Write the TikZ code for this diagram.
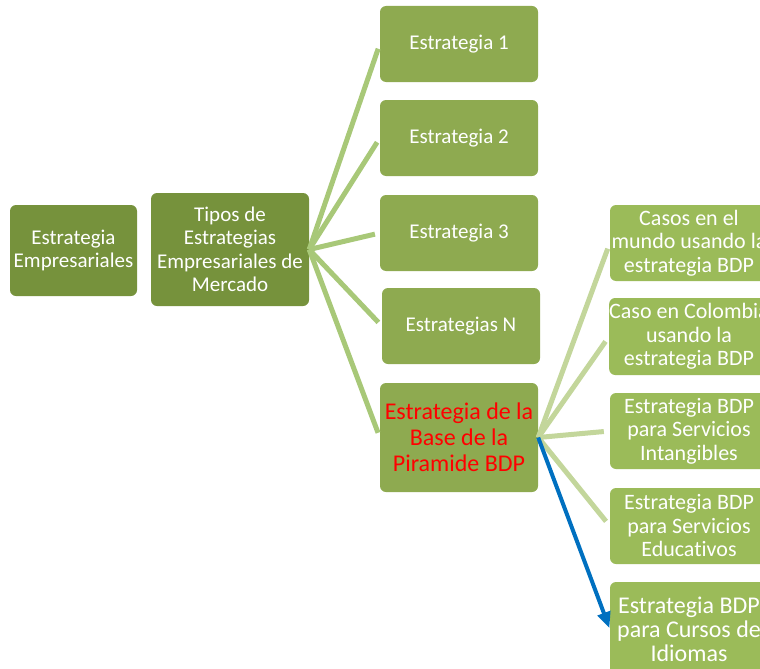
\documentclass[tikz,border=0pt]{standalone}
\usepackage{fontspec}
\setmainfont[Ligatures=NoCommon]{Carlito}
\usetikzlibrary{arrows.meta}
\definecolor{darkgr}{HTML}{76923C}
\definecolor{midgr}{HTML}{8EAA50}
\definecolor{ltgr}{HTML}{9BBB59}
\definecolor{lineA}{HTML}{A8C878}
\definecolor{lineB}{HTML}{C3D69B}
\definecolor{arrowblue}{HTML}{0070C0}
\tikzset{
  bx/.style={rounded corners=6pt, inner sep=0pt, text=white, align=center,
    minimum width=158pt, minimum height=76pt,
    font=\fontsize{21}{23.5}\selectfont},
  rbx/.style={bx, fill=ltgr, font=\fontsize{22}{23.5}\selectfont},
  conA/.style={draw=lineA, line width=5pt, shorten >=5pt},
  conB/.style={draw=lineB, line width=5pt, shorten >=6pt},
}
\begin{document}
\begin{tikzpicture}[x=1pt,y=-1pt]
\useasboundingbox (0,0) rectangle (760,669);
\clip (0,0) rectangle (760,669);
% boxes
\node[bx, fill=darkgr, minimum width=127pt, minimum height=91pt] (es) at (73.5,250.5) {Estrategia\\Empresariales};
\node[bx, fill=darkgr, minimum height=113pt] (tipos) at (230,249.5) {Tipos de\\Estrategias\\Empresariales de\\Mercado};
\node[bx, fill=midgr] (e1) at (459,44) {Estrategia 1};
\node[bx, fill=midgr] (e2) at (459,138) {Estrategia 2};
\node[bx, fill=midgr] (e3) at (459,233) {Estrategia 3};
\node[bx, fill=midgr] (eN) at (461,326) {Estrategias N};
\node[bx, fill=midgr, minimum height=109pt, text=red, font=\fontsize{24}{26}\selectfont] (bdp) at (459,437.5) {Estrategia de la\\Base de la\\Piramide BDP};
\node[rbx] (r1) at (689,243) {Casos en el\\mundo usando la\\estrategia BDP};
\node[rbx, minimum height=77pt] (r2) at (689,336.5) {Caso en Colombia\\usando la\\estrategia BDP};
\node[rbx] (r3) at (689,431) {Estrategia BDP\\para Servicios\\Intangibles};
\node[rbx] (r4) at (689,526) {Estrategia BDP\\para Servicios\\Educativos};
\node[rbx, minimum height=94pt, font=\fontsize{24}{24}\selectfont] (r5) at (689,629) {Estrategia BDP\\para Cursos de\\Idiomas};
% connectors
\path[conA] (tipos.east) -- (e1.west);
\path[conA] (tipos.east) -- (e2.west);
\path[conA] (tipos.east) -- (e3.west);
\path[conA] (tipos.east) -- (eN.west);
\path[conA] (tipos.east) -- (bdp.west);
\path[conB] (bdp.east) -- (r1.west);
\path[conB] (bdp.east) -- (r2.west);
\path[conB] (bdp.east) -- (r3.west);
\path[conB] (bdp.east) -- (r4.west);
\draw[arrowblue, line width=4pt, shorten >=1pt, -{Triangle[length=16pt,width=13pt]}] (bdp.east) -- (r5.west);
\end{tikzpicture}
\end{document}
